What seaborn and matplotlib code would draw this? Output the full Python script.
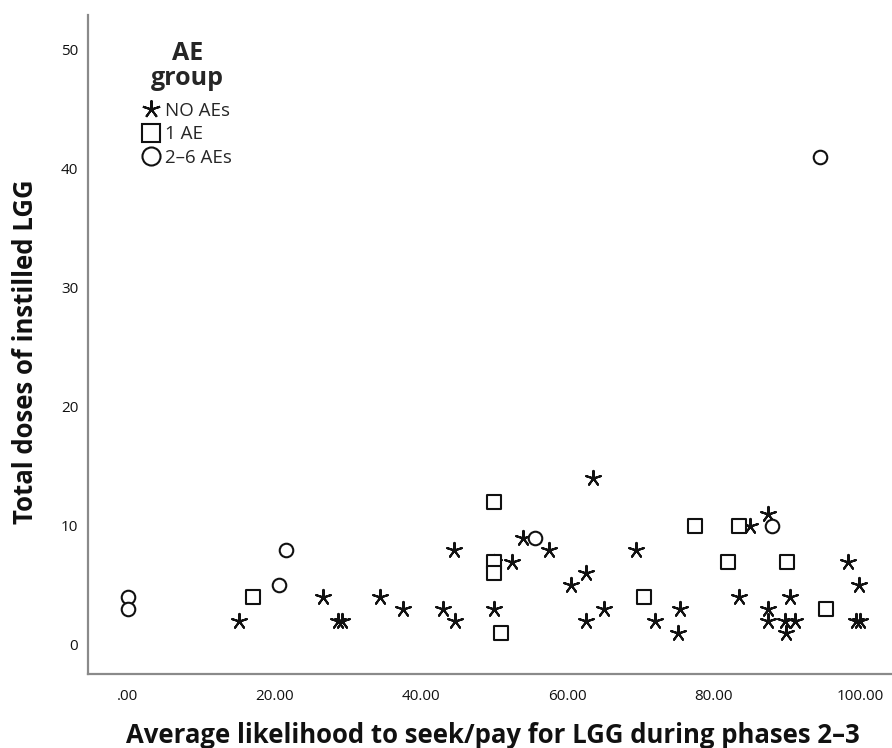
import matplotlib
matplotlib.use("Agg")
import matplotlib.pyplot as plt
from matplotlib.lines import Line2D
import seaborn as sns
import pandas as pd

# ---- data ----
none_x = [15.2, 26.7, 28.7, 29.2, 34.5, 37.6, 43.1, 44.7, 44.6, 50.0, 50.0, 52.5,
          54.0, 57.6, 63.6, 62.6, 60.5, 65.1, 62.6, 69.4, 75.4, 72.0, 75.1, 85.0,
          87.5, 83.5, 87.5, 87.5, 90.5, 89.8, 91.1, 89.9, 98.4, 99.9, 99.5, 100.0]
none_y = [2, 4, 2, 2, 4, 3, 3, 2, 8, 7, 3, 7,
          9, 8, 14, 6, 5, 3, 2, 8, 3, 2, 1, 10,
          11, 4, 3, 2, 4, 2, 2, 1, 7, 5, 2, 2]

one_x = [17.1, 50.0, 50.0, 50.0, 51.0, 70.5, 77.5, 83.5, 82.0, 90.0, 95.4]
one_y = [4, 12, 7, 6, 1, 4, 10, 10, 7, 7, 3]

multi_x = [0.0, 0.0, 20.6, 21.6, 55.6, 88.0, 94.5]
multi_y = [4, 3, 5, 8, 9, 10, 41]

groups = ["NO AEs", "1 AE", "2\u20136 AEs"]
x_ticks = [0, 20, 40, 60, 80, 100]
x_tick_labels = [".00", "20.00", "40.00", "60.00", "80.00", "100.00"]
y_ticks = [0, 10, 20, 30, 40, 50]

df = pd.DataFrame({
    "x": none_x + one_x + multi_x,
    "y": none_y + one_y + multi_y,
    "group": [groups[0]] * len(none_x) + [groups[1]] * len(one_x) + [groups[2]] * len(multi_x),
})

sns.set_style("white")
plt.rcParams["font.family"] = ["Open Sans", "DejaVu Sans"]

fig = plt.figure(figsize=(8.92, 7.48), dpi=100)
ax = fig.add_axes([88 / 892, 74 / 748, 804 / 892, 659 / 748])

markers = {groups[0]: (5, 2, 0), groups[1]: "s", groups[2]: "o"}
sizes = {groups[0]: 120, groups[1]: 90, groups[2]: 95}

for g in groups:
    sub = df[df["group"] == g]
    if g == groups[0]:
        sns.scatterplot(data=sub, x="x", y="y", marker=markers[g], s=sizes[g],
                        color="#111111", linewidth=1.5, ax=ax, legend=False)
    else:
        sns.scatterplot(data=sub, x="x", y="y", marker=markers[g], s=sizes[g],
                        facecolor="white", edgecolor="#111111", linewidth=1.5,
                        ax=ax, legend=False)

ax.set_xlim(-5.46, 104.4)
ax.set_ylim(-2.44, 52.9)
ax.set_xticks(x_ticks)
ax.set_xticklabels(x_tick_labels)
ax.set_yticks(y_ticks)
ax.tick_params(axis="both", length=0, labelsize=11, colors="#111111")
ax.tick_params(axis="x", pad=11)
ax.tick_params(axis="y", pad=7)

for side in ["top", "right"]:
    ax.spines[side].set_visible(False)
for side in ["left", "bottom"]:
    ax.spines[side].set_color("#8a8a8a")
    ax.spines[side].set_linewidth(1.6)

ax.set_xlabel("Average likelihood to seek/pay for LGG during phases 2\u20133",
              fontsize=18.5, fontweight="bold", color="#111111")
ax.set_ylabel("Total doses of instilled LGG", fontsize=18.5, fontweight="bold",
              color="#111111")
ax.xaxis.label.set_va("center")
ax.yaxis.label.set_va("center")
ax.xaxis.set_label_coords(0.504, -0.094)
ax.yaxis.set_label_coords(-0.078, 0.489)

handles = [
    Line2D([], [], linestyle="none", marker=(5, 2, 0), markersize=13,
           color="#111111", markeredgewidth=1.5),
    Line2D([], [], linestyle="none", marker="s", markersize=12.5,
           markerfacecolor="white", markeredgecolor="#111111", markeredgewidth=1.5),
    Line2D([], [], linestyle="none", marker="o", markersize=13,
           markerfacecolor="white", markeredgecolor="#111111", markeredgewidth=1.5),
]
leg = ax.legend(handles, groups, title="AE\ngroup", loc="upper left",
                bbox_to_anchor=(0.068, 0.961), frameon=False, fontsize=13.5,
                handlelength=0.85, handletextpad=0.35, labelspacing=0.3,
                borderpad=0, borderaxespad=0)
leg.get_title().set_fontweight("bold")
leg.get_title().set_fontsize(18)
leg.get_title().set_multialignment("center")
leg.get_title().set_linespacing(1.0)
leg._legend_box.align = "center"
leg._legend_box.sep = 8

fig.savefig("out.png", dpi=100)
